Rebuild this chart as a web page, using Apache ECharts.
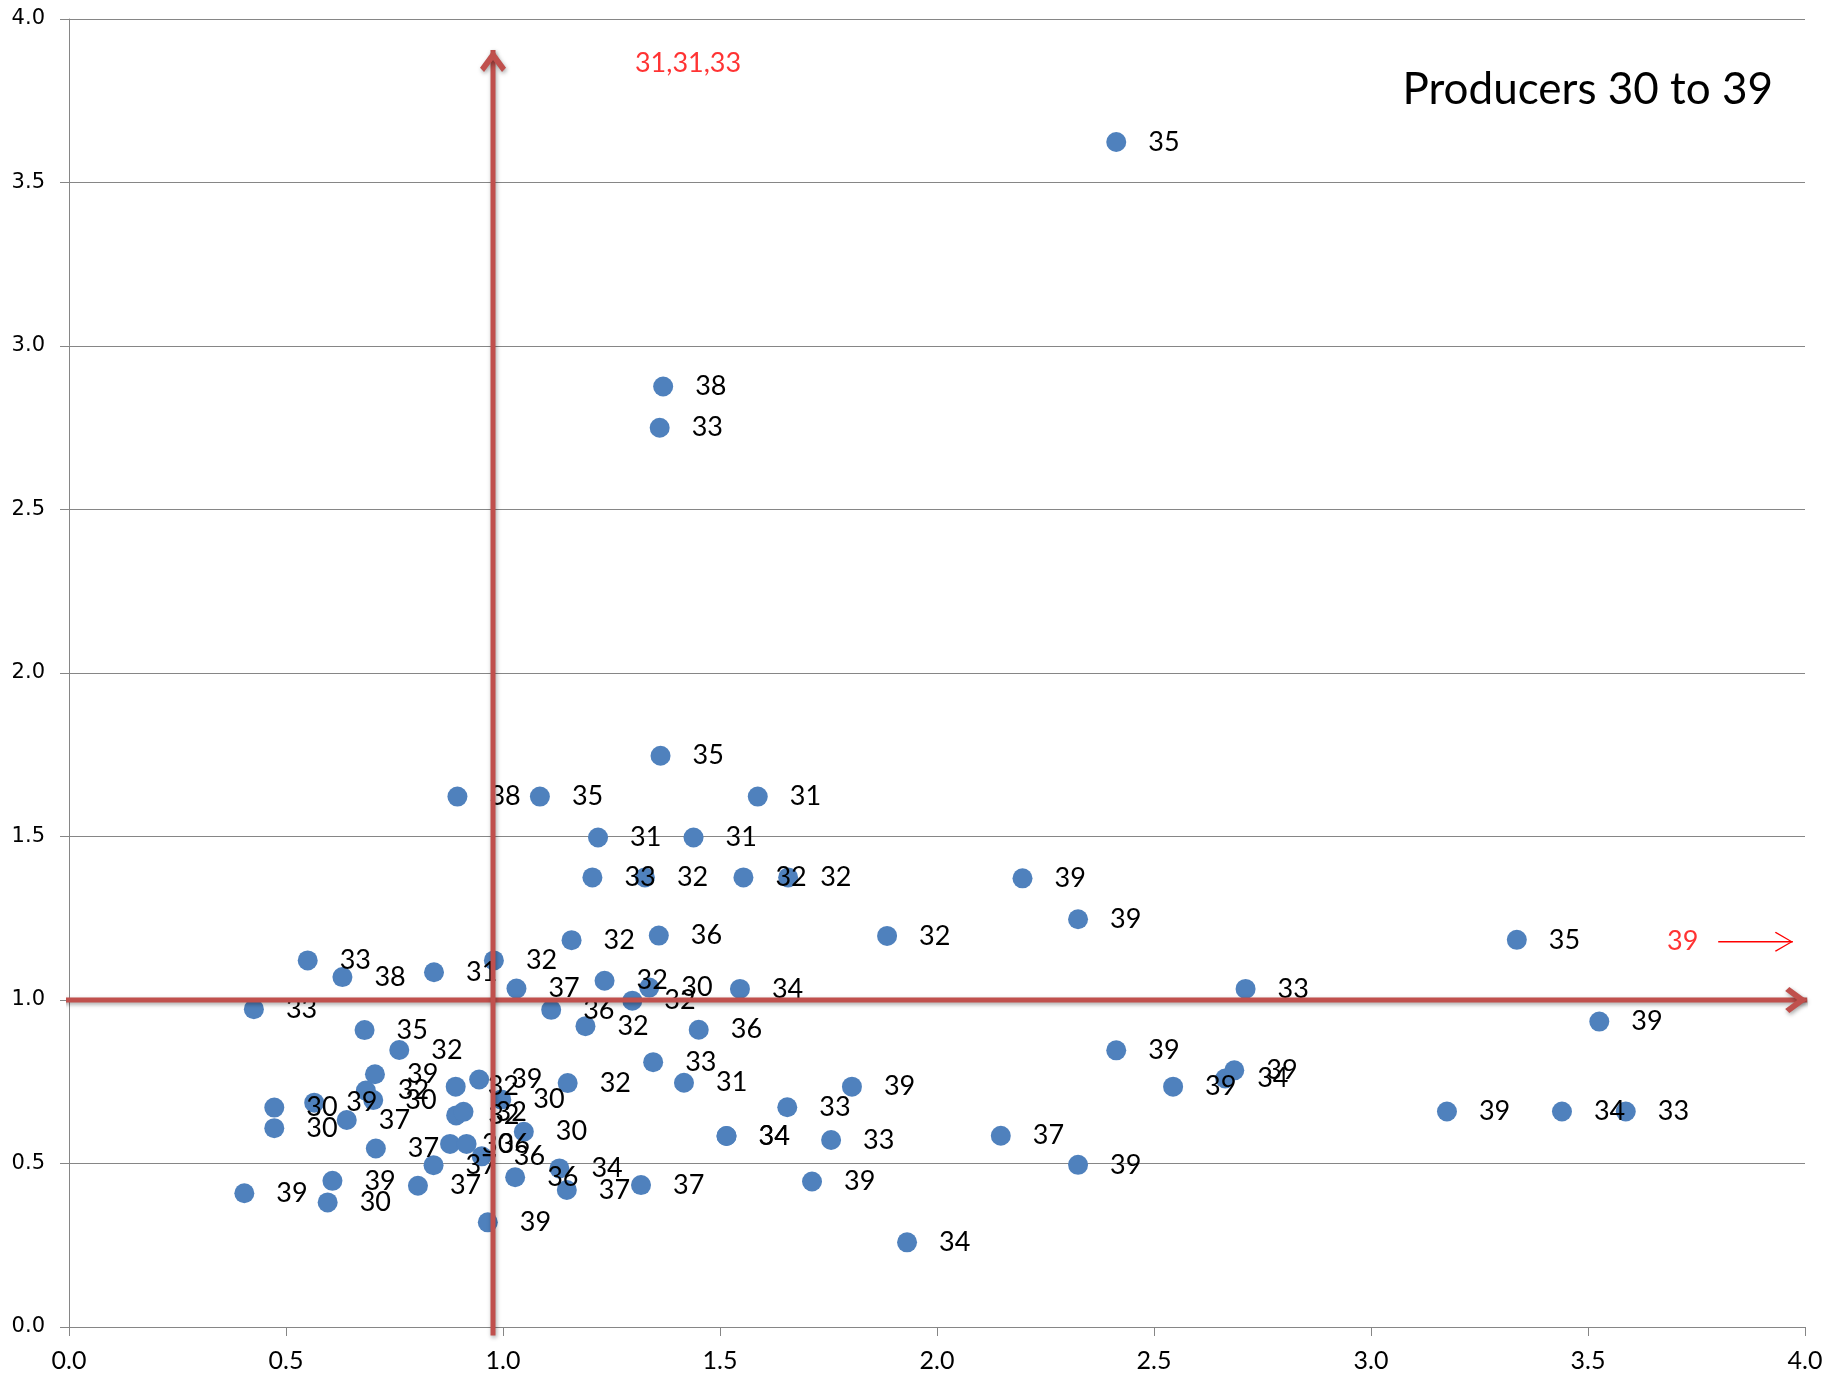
<!DOCTYPE html>
<html>
<head>
<meta charset="utf-8">
<script src="https://cdn.jsdelivr.net/npm/echarts@6/dist/echarts.min.js"></script>
<style>html,body{margin:0;padding:0;background:#fff}#c{width:1837px;height:1377px}</style>
</head>
<body>
<div id="c"></div>
<script>
// ---- data ----
const xValues = [
  2.413, 1.369, 1.361, 1.363, 0.895, 1.085, 1.587, 1.219, 1.439, 1.206,
  1.327, 1.554, 1.657, 2.197, 2.325, 1.885, 1.158, 1.359, 3.336, 0.550,
  0.630, 0.841, 0.979, 1.031, 1.234, 1.337, 1.546, 2.711, 1.298, 0.426,
  1.111, 1.190, 1.451, 0.681, 0.761, 3.526, 2.413, 1.346, 0.705, 0.684,
  0.701, 0.891, 0.945, 0.996, 1.149, 1.417, 1.804, 2.544, 2.664, 2.685,
  0.473, 0.565, 0.640, 0.892, 0.909, 1.048, 1.655, 3.175, 3.440, 3.587,
  0.473, 0.878, 0.916, 0.951, 0.707, 0.840, 1.515, 1.515, 1.756, 2.147,
  2.325, 1.130, 1.028, 1.147, 1.318, 1.712, 0.404, 0.607, 0.596, 0.804,
  0.965, 1.931
];
const yValues = [
  3.624, 2.876, 2.750, 1.747, 1.622, 1.622, 1.622, 1.497, 1.497, 1.375,
  1.375, 1.375, 1.375, 1.372, 1.247, 1.196, 1.183, 1.197, 1.184, 1.121,
  1.070, 1.085, 1.121, 1.035, 1.059, 1.038, 1.034, 1.034, 0.998, 0.972,
  0.970, 0.920, 0.909, 0.908, 0.847, 0.934, 0.846, 0.810, 0.773, 0.723,
  0.694, 0.735, 0.757, 0.696, 0.746, 0.747, 0.735, 0.735, 0.760, 0.785,
  0.671, 0.686, 0.633, 0.647, 0.658, 0.597, 0.672, 0.659, 0.659, 0.659,
  0.608, 0.560, 0.560, 0.522, 0.546, 0.495, 0.584, 0.584, 0.572, 0.585,
  0.496, 0.485, 0.458, 0.419, 0.434, 0.445, 0.409, 0.447, 0.381, 0.432,
  0.320, 0.259
];
const producerLabels = [
  '35','38','33','35','38','35','31','31','31','33',
  '32','32','32','39','39','32','32','36','35','33',
  '38','31','32','37','32','30','34','33','32','33',
  '36','32','36','35','32','39','39','33','39','32',
  '30','32','39','30','32','31','39','39','34','39',
  '30','39','37','32','32','30','33','39','34','33',
  '30','30','36','36','37','37','34','34','33','37',
  '39','34','36','37','37','39','39','39','30','37',
  '39','34'
];
const xTickLabels = ['0.0','0.5','1.0','1.5','2.0','2.5','3.0','3.5','4.0'];
const yTickLabels = ['0.0','0.5','1.0','1.5','2.0','2.5','3.0','3.5','4.0'];
const chartTitle = 'Producers 30 to 39';

// reference arrows (data coordinates) and notes
const horizontalArrow = [[-0.032, 1.0], [4.005, 1.0]];
const verticalArrow = [[0.977, -0.026], [0.977, 3.905]];
const noteArrow = [[3.80, 1.178], [3.972, 1.178]];
const noteTexts = ['31,31,33', '39'];
const noteX = [1.304, 3.682];
const noteY = [3.866, 1.18];

// ---- build chart ----
const points = xValues.map((x, i) => ({ value: [x, yValues[i]], name: producerLabels[i] }));
const notePoints = noteTexts.map((t, i) => ({ value: [noteX[i], noteY[i]], name: t }));

const heavyHead = 'path://M13,0 L26,17 L22,21 L13,9.5 L4,21 L0,17 Z';
const thinHead = 'path://M10,0 L20,17 L19,18 L10,2.2 L1,18 L0,17 Z';

function arrow(pts, color, width, head, size, rotate, offset, shadow) {
  return {
    type: 'line',
    silent: true,
    clip: false,
    z: 10,
    animation: false,
    data: [
      { value: pts[0], symbol: 'none' },
      { value: pts[1], symbol: head, symbolSize: size, symbolRotate: rotate, symbolOffset: offset }
    ],
    showSymbol: true,
    lineStyle: Object.assign({ color: color, width: width, cap: 'butt' }, shadow ? {
      shadowBlur: 4, shadowColor: 'rgba(0,0,0,0.35)', shadowOffsetX: 1, shadowOffsetY: 2 } : {}),
    itemStyle: Object.assign({ color: color, borderWidth: 0, opacity: 1 }, shadow ? {
      shadowBlur: 4, shadowColor: 'rgba(0,0,0,0.35)', shadowOffsetX: 1, shadowOffsetY: 2 } : {}),
    emphasis: { disabled: true }
  };
}

const chart = echarts.init(document.getElementById('c'), null, { renderer: 'canvas' });
chart.setOption({
  animation: false,
  backgroundColor: '#ffffff',
  title: {
    text: chartTitle,
    right: 64,
    top: 68,
    padding: 0,
    textStyle: { fontFamily: 'Lato', fontSize: 44, fontWeight: 'normal', color: '#000000' }
  },
  grid: { left: 69, right: 32, top: 19, bottom: 50, containLabel: false },
  xAxis: {
    type: 'value', min: 0, max: 4, interval: 0.5,
    axisLine: { show: true, onZero: false, lineStyle: { color: '#868686', width: 1 } },
    axisTick: { show: true, inside: false, length: 9, lineStyle: { color: '#868686', width: 1 } },
    axisLabel: {
      formatter: v => xTickLabels[Math.round(v / 0.5)],
      color: '#000000', fontFamily: 'Lato', fontSize: 25, margin: 21
    },
    splitLine: { show: false }
  },
  yAxis: {
    type: 'value', min: 0, max: 4, interval: 0.5,
    axisLine: { show: true, onZero: false, lineStyle: { color: '#868686', width: 1 } },
    axisTick: { show: true, inside: false, length: 9, lineStyle: { color: '#868686', width: 1 } },
    axisLabel: {
      formatter: v => yTickLabels[Math.round(v / 0.5)],
      color: '#000000', fontFamily: 'DejaVu Sans', fontSize: 21, margin: 24
    },
    splitLine: { show: true, lineStyle: { color: '#868686', width: 1 } }
  },
  series: [
    {
      type: 'scatter',
      silent: true,
      z: 2,
      data: points,
      symbol: 'circle',
      symbolSize: 20,
      itemStyle: { color: '#4F81BD', opacity: 1 },
      label: {
        show: true, position: 'right', distance: 22, offset: [0, 2],
        formatter: '{b}', color: '#000000', fontFamily: 'Lato', fontSize: 27
      },
      labelLayout: { hideOverlap: false },
      emphasis: { disabled: true }
    },
    {
      type: 'scatter',
      silent: true,
      z: 11,
      clip: false,
      data: notePoints,
      symbolSize: 0,
      label: {
        show: true, position: 'right', distance: 0,
        formatter: '{b}', color: '#FF0000', fontFamily: 'Lato', fontSize: 27
      },
      emphasis: { disabled: true }
    },
    arrow(horizontalArrow, '#C0504D', 5, heavyHead, [26, 22], -90, [-11, 0], true),
    arrow(verticalArrow, '#C0504D', 5, heavyHead, [26, 22], 0, [0, 11], true),
    arrow(noteArrow, '#FF0000', 1.5, thinHead, [20, 18], -90, [-9, 0], false)
  ]
});
</script>
</body>
</html>
